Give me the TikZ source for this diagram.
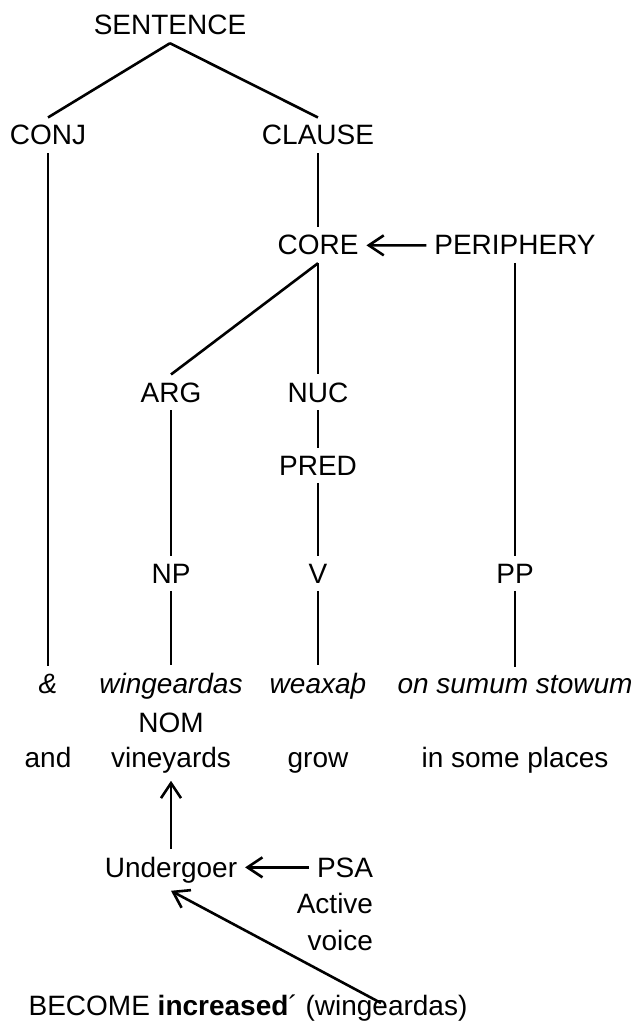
\documentclass[tikz,border=0pt]{standalone}
\usepackage{fontspec}
\setmainfont{Liberation Sans}
\usepackage{tikz}
\usetikzlibrary{arrows.meta}
\tikzset{ptr/.style={-{Straight Barb[length=7.5pt,width=10pt]}}}

\begin{document}
\begin{tikzpicture}[x=.5pt, y=-.5pt, line width=1.3pt,
    every node/.style={anchor=base, font=\fontsize{14}{17}\selectfont}]
  \useasboundingbox (0,0) rectangle (636,1032);
  % layered structure
  \node (sent) at (170,35) {SENTENCE};
  \node (conj) at (48,145) {CONJ};
  \node (clause) at (318,145) {CLAUSE};
  \node (core) at (318,255) {CORE};
  \node (peri) at (515,255) {PERIPHERY};
  \node (arg) at (171,402) {ARG};
  \node (nuc) at (318,402) {NUC};
  \node (pred) at (318,475) {PRED};
  \node (np) at (171,583) {NP};
  \node (v) at (318,583) {V};
  \node (pp) at (515,583) {PP};
  % words and glosses
  \node (amp) at (48,693) {\itshape\&};
  \node (wing) at (171,693) {\itshape wingeardas};
  \node (weax) at (318,693) {\itshape weaxaþ};
  \node (stow) at (515,693) {\itshape on sumum stowum};
  \node (nom) at (171,732) {NOM};
  \node (and) at (48,767) {and};
  \node (vine) at (171,767) {vineyards};
  \node (grow) at (318,767) {grow};
  \node (place) at (515,767) {in some places};
  % linking
  \node (und) at (171,877) {Undergoer};
  \node[anchor=base east] (psa) at (381,877) {PSA};
  \node[anchor=base east] (act) at (381,913) {Active};
  \node[anchor=base east] (voice) at (381,950) {voice};
  \node (lsc) at (248,1015) {BECOME \textbf{increased}´ (wingeardas)};
  \coordinate (wg) at (381,1003);

  \draw (sent.south) -- (conj.north);
  \draw (sent.south) -- (clause.north);
  \draw (conj.south) -- (amp.north);
  \draw (clause.south) -- (core.north);
  \draw (core.south) -- (arg.north);
  \draw (core.south) -- (nuc.north);
  \draw (nuc.south) -- (pred.north);
  \draw (pred.south) -- (v.north);
  \draw (arg.south) -- (np.north);
  \draw (np.south) -- (wing.north);
  \draw (v.south) -- (weax.north);
  \draw (peri.south) -- (pp.north);
  \draw (pp.south) -- (stow.north);
  \draw [ptr] (peri.west) -- (core.east);
  \draw [ptr] (und.north) -- (vine.south);
  \draw [ptr] (psa.west) -- (psa.west -| und.east);
  \draw [ptr] (wg) -- (und.south);
\end{tikzpicture}
\end{document}
